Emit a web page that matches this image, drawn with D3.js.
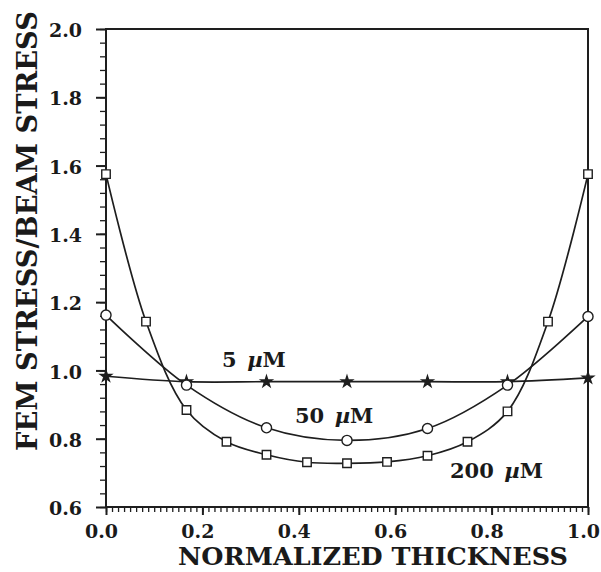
<!DOCTYPE html>
<html>
<head>
<meta charset="utf-8">
<script src="https://cdn.jsdelivr.net/npm/d3@7"></script>
<style>
body { margin: 0; background: #fff; }
svg text { font-family: "DejaVu Serif", serif; font-weight: bold; fill: #1a1a1a; }
</style>
</head>
<body>
<div id="chart"></div>
<script>
// data
var xTickLabels = ["0.0", "0.2", "0.4", "0.6", "0.8", "1.0"]
var yTickLabels = ["0.6", "0.8", "1.0", "1.2", "1.4", "1.6", "1.8", "2.0"]

var pos5 = [0, 0.167, 0.333, 0.5, 0.667, 0.833, 1.0]
var stress5 = [0.983, 0.967, 0.967, 0.967, 0.967, 0.967, 0.978]

var pos50 = [0, 0.167, 0.333, 0.5, 0.667, 0.833, 1.0]
var stress50 = [1.162, 0.957, 0.832, 0.795, 0.830, 0.957, 1.158]

var pos200 = [0, 0.083, 0.167, 0.25, 0.333, 0.417, 0.5, 0.583, 0.667, 0.75, 0.833, 0.917, 1.0]
var stress200 = [1.575, 1.143, 0.884, 0.791, 0.753, 0.731, 0.728, 0.732, 0.750, 0.791, 0.880, 1.143, 1.575]

var chart = {width: 601, height: 572, left: 106, right: 588, top: 29, bottom: 507}
var ink = "#1e1e1e"

var svg = d3.select("#chart")
	.append("svg")
	.attr("width", chart.width)
	.attr("height", chart.height)

var x = d3.scaleLinear().domain([0, 1]).range([chart.left, chart.right])
var y = d3.scaleLinear().domain([0.6, 2.0]).range([chart.bottom, chart.top])

// minor ticks
var xMinor = d3.range(0, 81).map(function(i){ return i / 80 })
var yMinor = d3.range(0, 36).map(function(i){ return 0.6 + i * 0.04 })

svg.append("g")
	.attr("transform", "translate(0," + chart.bottom + ")")
	.call(d3.axisBottom(x).tickValues(xMinor).tickSize(5).tickFormat(""))
	.call(function(g){ g.select(".domain").remove() })
	.selectAll("line").attr("stroke", ink).attr("stroke-width", 1.3)

svg.append("g")
	.attr("transform", "translate(" + chart.left + ",0)")
	.call(d3.axisLeft(y).tickValues(yMinor).tickSize(6).tickFormat(""))
	.call(function(g){ g.select(".domain").remove() })
	.selectAll("line").attr("stroke", ink).attr("stroke-width", 1.3)

// major ticks + labels
var xAxis = svg.append("g")
	.attr("transform", "translate(0," + chart.bottom + ")")
	.call(d3.axisBottom(x).tickValues(xTickLabels.map(Number)).tickSize(8)
		.tickFormat(function(d, i){ return xTickLabels[i] }).tickPadding(10))
xAxis.select(".domain").remove()
xAxis.selectAll("line").attr("stroke", ink).attr("stroke-width", 2)
xAxis.selectAll("text")
	.attr("font-size", 19)
	.attr("dx", -5)
	.attr("dy", "0.7em")
	.style("font-family", "DejaVu Serif")

var yAxis = svg.append("g")
	.attr("transform", "translate(" + chart.left + ",0)")
	.call(d3.axisLeft(y).tickValues(yTickLabels.map(Number)).tickSize(10)
		.tickFormat(function(d, i){ return yTickLabels[i] }).tickPadding(14))
yAxis.select(".domain").remove()
yAxis.selectAll("line").attr("stroke", ink).attr("stroke-width", 2)
yAxis.selectAll("text")
	.attr("font-size", 19)
	.attr("dy", "0.4em")
	.style("font-family", "DejaVu Serif")

// frame
svg.append("rect")
	.attr("x", chart.left)
	.attr("y", chart.top)
	.attr("width", chart.right - chart.left)
	.attr("height", chart.bottom - chart.top)
	.attr("fill", "none")
	.attr("stroke", ink)
	.attr("stroke-width", 2)

// curves
var line = d3.line()
	.x(function(d){ return x(d[0]) })
	.y(function(d){ return y(d[1]) })
	.curve(d3.curveCatmullRom.alpha(0.5))

var series = [
	{name: "5", pos: pos5, val: stress5, marker: "star"},
	{name: "50", pos: pos50, val: stress50, marker: "circle"},
	{name: "200", pos: pos200, val: stress200, marker: "square"}
]

series.forEach(function(s){
	var pts = s.pos.map(function(p, i){ return [p, s.val[i]] })
	svg.append("path")
		.datum(pts)
		.attr("d", line)
		.attr("fill", "none")
		.attr("stroke", ink)
		.attr("stroke-width", 1.7)

	var sym = {star: d3.symbolStar, circle: d3.symbolCircle, square: d3.symbolSquare}[s.marker]
	var size = {star: 38, circle: 80, square: 72}[s.marker]
	svg.append("g")
		.selectAll("path")
		.data(pts)
		.enter()
		.append("path")
		.attr("transform", function(d){ return "translate(" + x(d[0]) + "," + y(d[1]) + ")" })
		.attr("d", d3.symbol().type(sym).size(size))
		.attr("fill", s.marker == "star" ? ink : "#fff")
		.attr("stroke", ink)
		.attr("stroke-width", 1.4)
})

// curve labels
var labels = [
	{num: "5", x: 222, y: 367},
	{num: "50", x: 295, y: 423},
	{num: "200", x: 450, y: 478}
]
labels.forEach(function(l){
	var t = svg.append("text")
		.attr("x", l.x)
		.attr("y", l.y)
		.attr("font-size", 21)
	t.append("tspan").text(l.num + "\u2002")
	t.append("tspan").attr("font-style", "italic").text("\u00b5")
	t.append("tspan").text("M")
})

// axis titles
svg.append("text")
	.attr("transform", "translate(37,231) rotate(-90)")
	.attr("text-anchor", "middle")
	.attr("font-size", 27)
	.attr("textLength", 440)
	.attr("lengthAdjust", "spacingAndGlyphs")
	.text("FEM STRESS/BEAM STRESS")

svg.append("text")
	.attr("x", 373)
	.attr("y", 565)
	.attr("text-anchor", "middle")
	.attr("font-size", 25)
	.attr("textLength", 390)
	.attr("lengthAdjust", "spacingAndGlyphs")
	.text("NORMALIZED THICKNESS")
</script>
</body>
</html>
